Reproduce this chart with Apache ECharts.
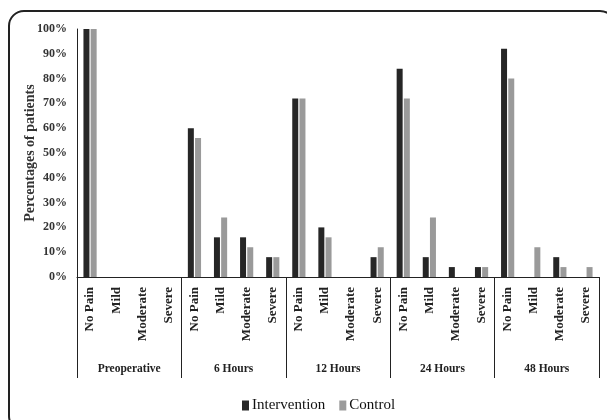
<!DOCTYPE html>
<html><head><meta charset="utf-8">
<script src="https://cdn.jsdelivr.net/npm/echarts@6/dist/echarts.min.js"></script>
<style>html,body{margin:0;padding:0;background:#fff}#c{width:607px;height:420px}</style>
</head><body><div id="c"></div>
<script>
var groups = ['Preoperative', '6 Hours', '12 Hours', '24 Hours', '48 Hours'];
var levels = ['No Pain', 'Mild', 'Moderate', 'Severe'];
var intervention = [100, 0, 0, 0, 60, 16, 16, 8, 72, 20, 0, 8, 84, 8, 4, 4, 92, 0, 8, 0];
var control = [100, 0, 0, 0, 56, 24, 12, 8, 72, 16, 0, 12, 72, 24, 0, 4, 80, 12, 4, 4];
var yTicks = [0, 10, 20, 30, 40, 50, 60, 70, 80, 90, 100];

var categories = [];
groups.forEach(function () { levels.forEach(function (l) { categories.push(l); }); });

var serif = '"Liberation Serif", "DejaVu Serif", serif';
var chart = echarts.init(document.getElementById('c'));
chart.setOption({
  animation: false,
  backgroundColor: '#fff',
  graphic: [{
    type: 'rect', shape: { x: 9, y: 11, width: 606, height: 420, r: 15 },
    style: { fill: 'none', stroke: '#222', lineWidth: 2 }, z: -1
  }],
  grid: { left: 77, right: 8, top: 29, bottom: 143 },
  legend: {
    top: 393, left: 237, itemWidth: 7, itemHeight: 10, itemGap: 14,
    icon: 'rect',
    textStyle: { fontFamily: serif, fontSize: 15, color: '#111', padding: [0, 0, 0, -2] },
    data: ['Intervention', 'Control']
  },
  xAxis: [{
    type: 'category', data: categories,
    axisLine: { lineStyle: { color: '#222', width: 1 } },
    axisTick: { show: false },
    axisLabel: { rotate: 90, interval: 0, margin: 10, fontFamily: serif, fontWeight: 'bold', fontSize: 13, color: '#222' }
  }, {
    type: 'category', data: groups, position: 'bottom',
    axisLine: { show: false },
    axisTick: { show: true, length: 101, lineStyle: { color: '#222' } },
    axisLabel: { margin: 86, fontFamily: serif, fontWeight: 'bold', fontSize: 11.5, color: '#222' }
  }],
  yAxis: {
    type: 'value', min: 0, max: 100, interval: 10,
    name: 'Percentages of patients', nameLocation: 'middle', nameGap: 40, nameMoveOverlap: false,
    nameTextStyle: { fontFamily: serif, fontWeight: 'bold', fontSize: 14, color: '#333' },
    axisLine: { show: true, lineStyle: { color: '#222' } },
    axisTick: { show: false },
    splitLine: { show: false },
    axisLabel: { margin: 10, fontFamily: serif, fontWeight: 'bold', fontSize: 12, color: '#333',
      formatter: function (v) { return yTicks.indexOf(v) >= 0 ? v + '%' : ''; } }
  },
  series: [{
    name: 'Intervention', type: 'bar', data: intervention, barWidth: 6, barGap: '20%',
    itemStyle: { color: '#262626' }
  }, {
    name: 'Control', type: 'bar', data: control, barWidth: 6,
    itemStyle: { color: '#9a9a9a' }
  }]
});
</script></body></html>
